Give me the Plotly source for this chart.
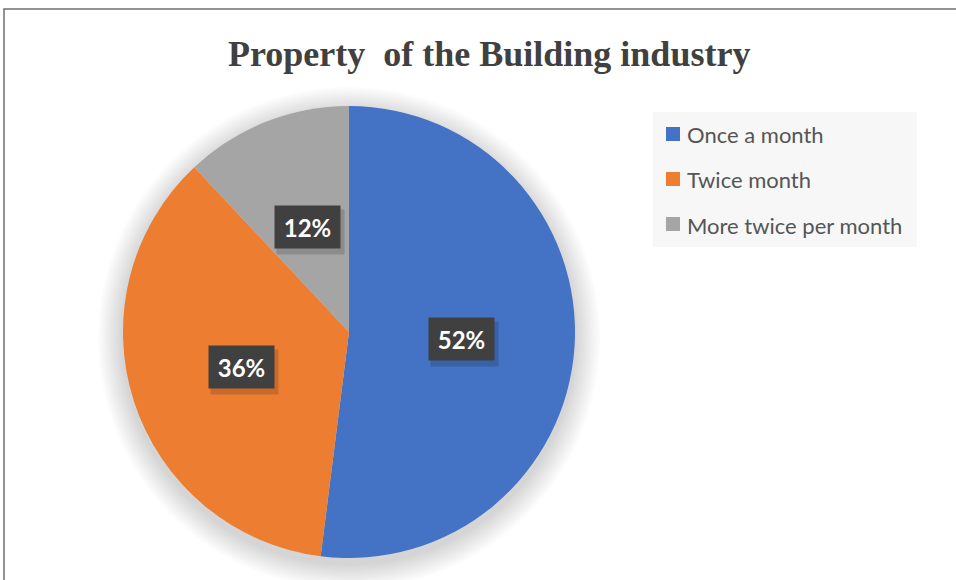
import math
import plotly.graph_objects as go

# Survey answers: how often the property is used
categories = ["Once a month", "Twice month", "More twice per month"]
shares = [52, 36, 12]
slice_colors = ["#4472C4", "#ED7D31", "#A5A5A5"]
title_text = "Property  of the Building industry"

W, H = 956, 580
CX, CY, R = 349, 332, 226          # pie centre and radius in pixels

def px_x(x):
    return x / W

def px_y(y):
    return (H - y) / H

fig = go.Figure()

fig.add_trace(go.Pie(
    labels=categories,
    values=shares,
    sort=False,
    direction="clockwise",
    rotation=0,
    marker=dict(colors=slice_colors, line=dict(width=0)),
    textinfo="none",
    hoverinfo="label+percent",
    showlegend=False,
    domain=dict(x=[px_x(CX - R), px_x(CX + R)],
                y=[px_y(CY + R), px_y(CY - R)]),
))

shapes = []

# soft drop shadow around the pie
for k in range(1, 15):
    rr = R + k * 1.8
    cy = CY + 6
    shapes.append(dict(
        type="circle", xref="paper", yref="paper", layer="below",
        x0=px_x(CX - rr), x1=px_x(CX + rr),
        y0=px_y(cy + rr), y1=px_y(cy - rr),
        fillcolor="rgba(0,0,0,0.011)", line=dict(width=0),
    ))

# chart frame
shapes.append(dict(
    type="rect", xref="paper", yref="paper",
    x0=px_x(4), x1=1.02, y0=-0.02, y1=px_y(9),
    line=dict(color="#6f6f6f", width=1.5), fillcolor="rgba(0,0,0,0)",
))

# legend panel
LX0, LY0, LX1, LY1 = 653, 112, 917, 247
shapes.append(dict(
    type="rect", xref="paper", yref="paper", layer="below",
    x0=px_x(LX0), x1=px_x(LX1), y0=px_y(LY1), y1=px_y(LY0),
    fillcolor="#F7F7F7", line=dict(width=0),
))

annotations = []
row_y = [134, 179, 224]
for name, col, ry in zip(categories, slice_colors, row_y):
    shapes.append(dict(
        type="rect", xref="paper", yref="paper",
        x0=px_x(666), x1=px_x(680), y0=px_y(ry + 7), y1=px_y(ry - 7),
        fillcolor=col, line=dict(width=0),
    ))
    annotations.append(dict(
        text=name, xref="paper", yref="paper",
        x=px_x(685), y=px_y(ry + 1), xanchor="left", yanchor="middle",
        showarrow=False,
        font=dict(family="Lato, sans-serif", size=22, color="#555555"),
    ))

# percentage labels at the middle of each slice
total = sum(shares)
cum = 0.0
for v in shares:
    mid = (cum + v / 2) / total * 2 * math.pi
    cum += v
    lx = CX + 0.5 * R * math.sin(mid)
    ly = CY - 0.5 * R * math.cos(mid)
    label = f"{round(v / total * 100)}%"
    annotations.append(dict(
        text=" ", xref="paper", yref="paper",
        x=px_x(lx + 3), y=px_y(ly + 5), xanchor="center", yanchor="middle",
        showarrow=False, width=65, height=42,
        bgcolor="rgba(0,0,0,0.15)",
    ))
    annotations.append(dict(
        text=f"<b>{label}</b>", xref="paper", yref="paper",
        x=px_x(lx), y=px_y(ly), xanchor="center", yanchor="middle",
        showarrow=False, width=63, height=40,
        bgcolor="#404040",
        font=dict(family="Lato, sans-serif", size=24, color="#FFFFFF"),
    ))

# title
annotations.append(dict(
    text=f"<b>{title_text}</b>", xref="paper", yref="paper",
    x=px_x(489), y=px_y(54), xanchor="center", yanchor="middle",
    showarrow=False,
    font=dict(family="Liberation Serif, Times New Roman, serif", size=36, color="#404040"),
))

fig.update_layout(
    width=W, height=H,
    margin=dict(l=0, r=0, t=0, b=0),
    paper_bgcolor="#FFFFFF",
    plot_bgcolor="#FFFFFF",
    shapes=shapes,
    annotations=annotations,
    showlegend=False,
)

fig.write_html("out.html", include_plotlyjs=True, config={"displayModeBar": False})
